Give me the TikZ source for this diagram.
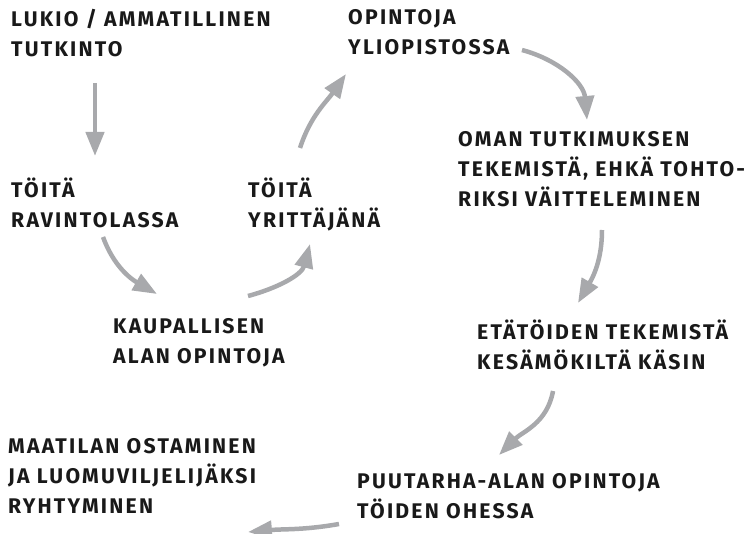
\documentclass[tikz,border=0pt]{standalone}
\usepackage{fontspec}
\setmainfont{Fira Sans}[UprightFont=* Bold, LetterSpace=10.5]
\usetikzlibrary{arrows.meta,positioning}
\definecolor{arrowgray}{RGB}{168,169,172}

\begin{document}
\begin{tikzpicture}[x=1pt, y=1pt,
  every node/.style={anchor=north west, inner sep=0pt, align=left,
    font=\fontsize{21.2}{30}\selectfont, text=black!90,
    execute at begin node={\rule{0pt}{19pt}}},
  arr/.style={draw=arrowgray, line width=4.5pt,
    -{Triangle[length=24pt, width=18pt]}}]

\useasboundingbox (0,0) rectangle (750,-534);

\node (lukio) at (11,-9) {LUKIO / AMMATILLINEN\\TUTKINTO};
\node (yliopisto) at (348,-9) {OPINTOJA\\YLIOPISTOSSA};
\node (ravintola) at (11,-178) {TÖITÄ\\RAVINTOLASSA};
\node (yrittaja) at (248,-178) {TÖITÄ\\YRITTÄJÄNÄ};
\node (tutkimus) at (458,-131) {OMAN TUTKIMUKSEN\\TEKEMISTÄ, EHKÄ TOHTO-\\RIKSI VÄITTELEMINEN};
\node (kaupallinen) at (113,-318) {KAUPALLISEN\\ALAN OPINTOJA};
\node (etatyo) at (477,-320) {ETÄTÖIDEN TEKEMISTÄ\\KESÄMÖKILTÄ KÄSIN};
\node (maatila) at (8,-438) {MAATILAN OSTAMINEN\\JA LUOMUVILJELIJÄKSI\\RYHTYMINEN};
\node (puutarha) at (357,-473) {PUUTARHA-ALAN OPINTOJA\\TÖIDEN OHESSA};

% arrow ends
\coordinate (a1s) at (95,-83);   \coordinate (a1e) at (95,-156);
\coordinate (a2s) at (103,-237); \coordinate (a2e) at (157,-294);
\coordinate (a3s) at (248,-296); \coordinate (a3e) at (310,-244);
\coordinate (a4s) at (300,-148); \coordinate (a4e) at (346,-74);
\coordinate (a5s) at (522,-50);  \coordinate (a5e) at (587,-120);
\coordinate (a6s) at (602,-230); \coordinate (a6e) at (578,-303);
\coordinate (a7s) at (553,-391); \coordinate (a7e) at (499,-455);
\coordinate (a8s) at (339,-524); \coordinate (a8e) at (248,-532);

\draw[arr] (a1s) -- (a1e);
\draw[arr] (a2s) to[out=-70, in=150] (a2e);
\draw[arr] (a3s) to[out=15, in=-105] (a3e);
\draw[arr] (a4s) to[out=72, in=-125] (a4e);
\draw[arr] (a5s) to[out=-15, in=95] (a5e);
\draw[arr] (a6s) to[out=-90, in=60] (a6e);
\draw[arr] (a7s) to[out=-100, in=45] (a7e);
\draw[arr] (a8s) to[out=-170, in=5] (a8e);

\end{tikzpicture}
\end{document}
